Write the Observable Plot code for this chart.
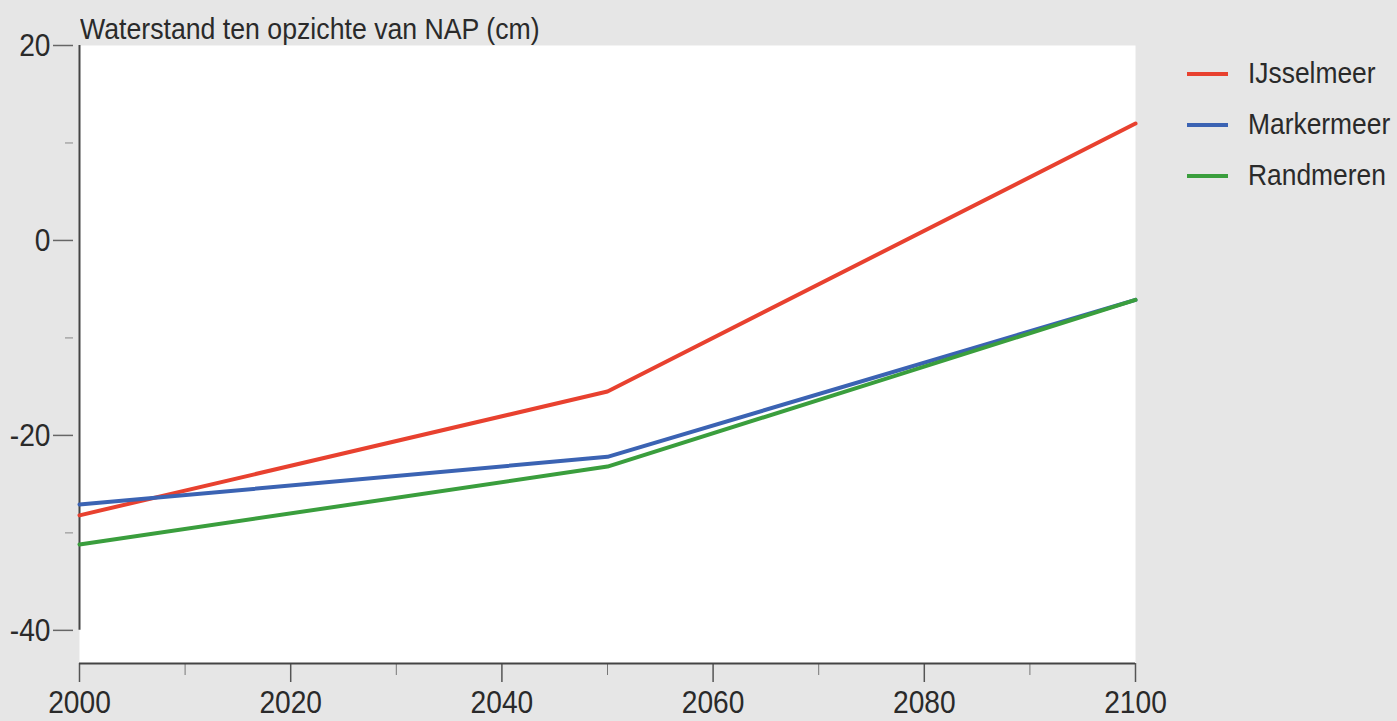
<!DOCTYPE html>
<html>
<head>
<meta charset="utf-8">
<script src="https://cdn.jsdelivr.net/npm/d3@7"></script>
<script src="https://cdn.jsdelivr.net/npm/@observablehq/plot@0.6"></script>
<style>
  html, body { margin: 0; padding: 0; background: #e6e6e6; }
  #wrap { position: relative; width: 1397px; height: 721px; overflow: hidden; font-family: "Liberation Sans", Arial, sans-serif; color: #2a2a2a; }
  #title { position: absolute; left: 80px; top: 13px; font-size: 29px; white-space: nowrap; transform: scaleX(0.92); transform-origin: left center; }
  #legend { position: absolute; left: 1187px; top: 48px; }
  .item { display: flex; align-items: center; height: 51px; font-size: 29px; white-space: nowrap; }
  .sw { width: 41px; height: 4px; margin-right: 20px; flex: none; }
  .lt { display: inline-block; transform: scaleX(0.91); transform-origin: left center; }
</style>
</head>
<body>
<div id="wrap">
  <div id="chart"></div>
  <div id="title">Waterstand ten opzichte van NAP (cm)</div>
  <div id="legend"></div>
</div>
<script>
const years = [2000, 2050, 2100];
const seriesNames = ["IJsselmeer", "Markermeer", "Randmeren"];
const ijsselmeer = [-28.2, -15.5, 12.0];
const markermeer = [-27.1, -22.2, -6.1];
const randmeren = [-31.2, -23.2, -6.1];
const seriesColors = ["#e8412f", "#3b63b3", "#3a9e3d"];
const yMajorTicks = [20, 0, -20, -40];
const yMinorTicks = [10, -10, -30];
const xMajorTicks = [2000, 2020, 2040, 2060, 2080, 2100];
const xMinorTicks = [2010, 2030, 2050, 2070, 2090];

const allValues = [ijsselmeer, markermeer, randmeren];
const rows = [];
seriesNames.forEach((name, i) => {
  years.forEach((yr, j) => rows.push({series: name, year: yr, value: allValues[i][j]}));
});

const chart = Plot.plot({
  width: 1397,
  height: 721,
  marginLeft: 79,
  marginRight: 262,
  marginTop: 45,
  marginBottom: 58,
  style: {background: "#e6e6e6", fontFamily: '"Liberation Sans", Arial, sans-serif', color: "#2a2a2a"},
  x: {domain: [2000, 2100]},
  y: {domain: [-43.4, 20]},
  color: {domain: seriesNames, range: seriesColors},
  marks: [
    Plot.frame({fill: "white", stroke: null}),
    Plot.axisY({ticks: yMajorTicks, tickSize: 20, tickPadding: 3, dx: -6, tickFormat: d => String(d), fontSize: 32, label: null, stroke: "#666", strokeWidth: 1.5}),
    Plot.axisY({ticks: yMinorTicks, tickSize: 8, dx: -6, tickFormat: () => "", label: null, stroke: "#888"}),
    Plot.axisX({ticks: xMajorTicks, tickSize: 19, tickPadding: 8, tickFormat: d => String(d), fontSize: 32, label: null, stroke: "#555", strokeWidth: 1.5}),
    Plot.axisX({ticks: xMinorTicks, tickSize: 12, tickFormat: () => "", label: null, stroke: "#777"}),
    Plot.ruleX([2000], {y1: -40, y2: 20, stroke: "#444", strokeWidth: 2}),
    Plot.ruleY([-43.4], {x1: 2000, x2: 2100, stroke: "#444", strokeWidth: 2}),
    Plot.line(rows, {x: "year", y: "value", z: "series", stroke: "series", strokeWidth: 4})
  ]
});
// condense axis tick labels to mimic the narrow typeface
chart.querySelectorAll("g[aria-label$='tick label'] text").forEach(t => {
  const tr = t.getAttribute("transform") || "";
  t.setAttribute("transform", (tr + " scale(0.88,1)").trim());
});
document.getElementById("chart").appendChild(chart);

const legend = document.getElementById("legend");
seriesNames.forEach((name, i) => {
  const it = document.createElement("div");
  it.className = "item";
  const sw = document.createElement("div");
  sw.className = "sw";
  sw.style.background = seriesColors[i];
  const tx = document.createElement("span");
  tx.className = "lt";
  tx.textContent = name;
  it.appendChild(sw);
  it.appendChild(tx);
  legend.appendChild(it);
});
</script>
</body>
</html>
